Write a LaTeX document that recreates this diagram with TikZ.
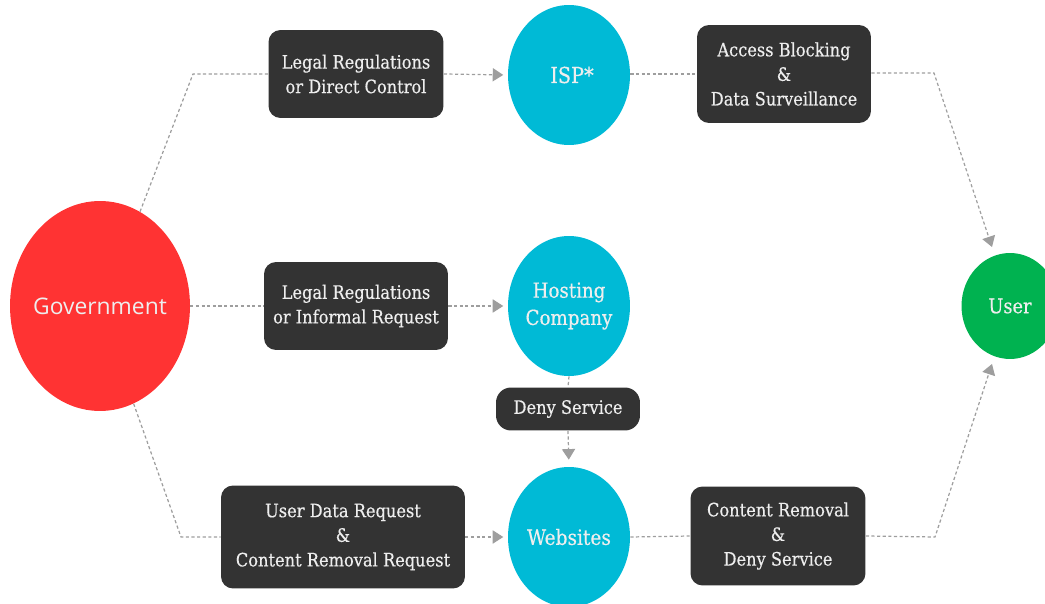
\documentclass[tikz,border=0pt]{standalone}
\usepackage{fontspec}
\setmainfont{DejaVu Serif}[FakeStretch=0.88, FakeBold=0.35]
\newfontfamily\govfont{Open Sans}
\usepackage{tikz}
\usetikzlibrary{arrows.meta}
\usetikzlibrary{shapes.geometric}
\usetikzlibrary{positioning}
\definecolor{pomegranate}{RGB}{255, 51, 51}
\definecolor{skyblue}{RGB}{0, 186, 214}
\definecolor{emerald}{RGB}{0, 178, 80}
\definecolor{charcoal}{RGB}{51, 51, 51}
\definecolor{ash}{RGB}{158, 158, 158}
\definecolor{snow}{RGB}{238, 238, 238}

\tikzset{
    actor/.style  = {ellipse, inner sep=0pt, text=snow, align=center},
    measure/.style= {rounded corners=0.24cm, fill=charcoal, text=snow, align=center, inner sep=0pt,
                     font=\fontsize{10.5}{14}\selectfont},
    link/.style   = {draw=ash, line width=0.7pt, dash pattern=on 1.8pt off 1.4pt},
    push/.style   = {link, -{Triangle[length=6pt, width=7.5pt]}, shorten >=2.5pt}
}

\begin{document}
\begin{tikzpicture}[x=0.02cm, y=-0.02cm]
    % Frame to ensure alignment:
    \useasboundingbox (0, 0) rectangle (1045, 604);

    % actors
    \node[actor, fill=pomegranate, minimum width=3.6cm,  minimum height=4.2cm,
          font=\govfont\fontsize{13}{15}\selectfont]                     (gov)  at ( 100, 306) {\makebox[0pt]{Government}};
    \node[actor, fill=skyblue,     minimum width=2.44cm, minimum height=2.8cm,
          font=\fontsize{12.5}{15}\selectfont]                           (isp)  at ( 569,  75) {\hspace{0.12cm}ISP*};
    \node[actor, fill=skyblue,     minimum width=2.44cm, minimum height=2.8cm,
          font=\fontsize{11.8}{15.5}\selectfont]                         (host) at ( 569, 306) {\makebox[0pt]{Hosting}\\\makebox[0pt]{Company}};
    \node[actor, fill=skyblue,     minimum width=2.44cm, minimum height=2.8cm,
          font=\fontsize{12}{15}\selectfont]                             (web)  at ( 569, 537) {\makebox[0pt]{Websites}};
    \node[actor, fill=emerald,     minimum width=1.94cm, minimum height=2.12cm,
          font=\fontsize{11.5}{14}\selectfont]                           (user) at (1010, 306) {User};

    % measures
    \node[measure, minimum width=3.5cm,  minimum height=1.76cm] (direct)   at (356,  74) {Legal Regulations\\or Direct Control};
    \node[measure, minimum width=3.68cm, minimum height=1.76cm] (informal) at (356, 306) {Legal Regulations\\or Informal Request};
    \node[measure, minimum width=4.88cm, minimum height=2.06cm] (request)  at (343, 537) {User Data Request\\\&\\Content Removal Request};
    \node[measure, minimum width=3.48cm, minimum height=1.96cm] (blocking) at (784,  74) {Access Blocking\\\&\\Data Surveillance};
    \node[measure, minimum width=2.88cm, minimum height=0.86cm,
          rounded corners=0.3cm]                                 (deny)     at (568, 409) {Deny Service};
    \node[measure, minimum width=3.5cm,  minimum height=1.98cm] (removal)  at (778, 536) {Content Removal\\\&\\Deny Service};

    % bends
    \coordinate (upbend)   at (193,  74);
    \coordinate (lowbend)  at (181, 537);
    \coordinate (outbend1) at (934,  73);
    \coordinate (outbend2) at (935, 537);
    \coordinate (userin1)  at (992, 247);
    \coordinate (userin2)  at (992, 364);

    % links
    \draw[link] (gov.67)  -- (upbend)  -- (direct.west);
    \draw[push] (direct.east)   -- (isp.west);
    \draw[link] (gov.east)      -- (informal.west);
    \draw[push] (informal.east) -- (host.west);
    \draw[link] (gov.-71) -- (lowbend) -- (request.west);
    \draw[push] (request.east)  -- (web.west);
    \draw[link] (isp.east |- blocking.west) -- (blocking.west);
    \draw[push, shorten >=0pt] (blocking.east |- outbend1) -- (outbend1) -- (userin1);
    \draw[link] (host.south)    -- (deny.north);
    \draw[push, shorten >=4pt] (deny.south) -- (web.north);
    \draw[link] (web.east)      -- (removal.west);
    \draw[push, shorten >=0pt] (removal.east) -- (outbend2) -- (userin2);
\end{tikzpicture}
\end{document}
